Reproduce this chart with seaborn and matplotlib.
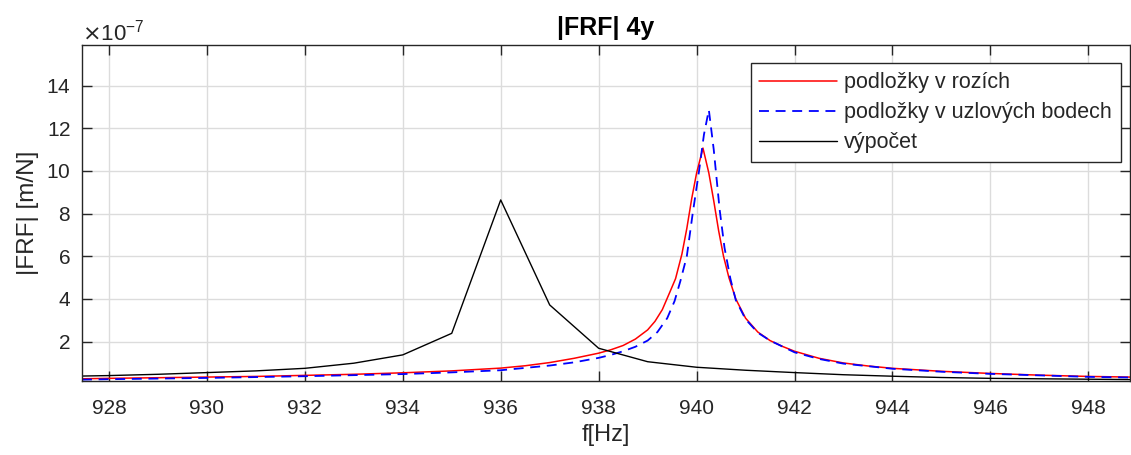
import numpy as np
import pandas as pd
import matplotlib
matplotlib.use("Agg")
import matplotlib.pyplot as plt
import matplotlib.ticker as mticker
import seaborn as sns

# ---- data (values in m/N; axis shows x1e-7) ----
f_red = [927.45, 928, 929, 930, 931, 932, 933, 934, 935, 936, 936.5, 937, 937.5,
         938, 938.25, 938.5, 938.75, 939.0, 939.15, 939.3, 939.45, 939.57, 939.7,
         939.8, 939.9, 940.0, 940.13, 940.25, 940.35, 940.45, 940.55, 940.66,
         940.8, 941.0, 941.25, 941.5, 941.75, 942, 942.5, 943, 943.5, 944, 945,
         946, 947, 948, 948.85]
a_red = [0.26, 0.28, 0.31, 0.34, 0.37, 0.42, 0.47, 0.54, 0.63, 0.76, 0.87, 1.02, 1.22,
         1.46, 1.62, 1.82, 2.12, 2.55, 2.95, 3.50, 4.30, 4.95, 6.10,
         7.30, 8.70, 9.90, 11.07, 9.90, 8.60, 7.20, 6.00, 5.00,
         4.00, 3.10, 2.45, 2.05, 1.78, 1.55, 1.22, 1.00, 0.86, 0.75, 0.61,
         0.51, 0.43, 0.37, 0.34]

f_blue = [927.45, 928, 930, 932, 934, 935, 936, 937, 937.5, 938, 938.25, 938.5,
          938.75, 939.0, 939.2, 939.4, 939.55, 939.67, 939.8, 939.92, 940.05,
          940.15, 940.25, 940.35, 940.47, 940.57, 940.69, 940.8, 941.0, 941.25,
          941.5, 942, 942.5, 943, 944, 945, 946, 947, 948, 948.85]
a_blue = [0.22, 0.24, 0.30, 0.38, 0.48, 0.56, 0.66, 0.88, 1.03, 1.24, 1.38, 1.55,
          1.76, 2.05, 2.45, 3.10, 3.90, 4.85, 6.00, 8.00, 10.00,
          11.70, 12.86, 11.00, 8.20, 6.40, 4.95, 3.95, 3.05, 2.42,
          2.05, 1.50, 1.19, 0.97, 0.73, 0.59, 0.49, 0.42, 0.35, 0.32]

f_calc = [927, 928, 929, 930, 931, 932, 933, 934, 935, 936, 937, 938, 939, 940,
          941, 942, 943, 944, 945, 946, 947, 948, 949]
a_calc = [0.37, 0.41, 0.47, 0.55, 0.63, 0.75, 0.99, 1.38, 2.39, 8.64, 3.72, 1.69, 1.06, 0.80,
          0.66, 0.55, 0.45, 0.38, 0.32, 0.28, 0.26, 0.24, 0.22]

labels = ["podložky v rozích", "podložky v uzlových bodech", "výpočet"]
x_ticks = list(range(928, 949, 2))
y_ticks = [2, 4, 6, 8, 10, 12, 14]
scale = 1e-7

sns.set_theme(style="whitegrid")
plt.rcParams['font.family'] = ['Liberation Sans', 'DejaVu Sans']

fig = plt.figure(figsize=(11.31, 4.55), dpi=100)
ax = fig.add_axes([82/1131, 1 - 380.7/455, 1048/1131, 335.7/455])

txt = "#262626"
sns.lineplot(x=f_red, y=np.array(a_red) * scale, ax=ax, color="#ff0000", lw=1.1,
             label=labels[0], sort=False, estimator=None)
sns.lineplot(x=f_blue, y=np.array(a_blue) * scale, ax=ax, color="#0000ff", lw=1.3,
             label=labels[1], sort=False, estimator=None, linestyle=(0, (5.5, 3.7)))
sns.lineplot(x=f_calc, y=np.array(a_calc) * scale, ax=ax, color="#000000", lw=1.0,
             label=labels[2], sort=False, estimator=None)

ax.set_xlim(927.45, 948.85)
ax.set_ylim(0.17 * scale, 15.9 * scale)
ax.set_xticks(x_ticks)
ax.set_yticks([v * scale for v in y_ticks])
fmt = mticker.ScalarFormatter(useMathText=True)
fmt.set_powerlimits((-7, -7))
ax.yaxis.set_major_formatter(fmt)
ax.yaxis.get_offset_text().set_fontsize(16)
ax.yaxis.get_offset_text().set_color(txt)

ax.set_facecolor("white")
ax.grid(True, color="#dcdcdc", linewidth=1.0)
for s in ax.spines.values():
    s.set_visible(True)
    s.set_color(txt)
    s.set_linewidth(1.0)
ax.tick_params(axis="both", direction="in", length=7, width=1.0, colors=txt,
               labelsize=15, labelcolor=txt, top=True, right=True,
               bottom=True, left=True, pad=8)
ax.tick_params(axis="x", pad=13.5)

ax.set_xlabel("f[Hz]", fontsize=17, color=txt, labelpad=4)
ax.set_ylabel("|FRF| [m/N]", fontsize=17.5, color=txt, labelpad=5)
ax.set_title("|FRF| 4y", fontsize=18, fontweight="bold", color="#000000", pad=7)

leg = ax.legend(loc="upper right", bbox_to_anchor=(0.991, 0.945), fontsize=15.5,
                frameon=True, fancybox=False, edgecolor="#262626", framealpha=1,
                handlelength=3.6, borderpad=0.4, labelspacing=0.42, handletextpad=0.35,
                borderaxespad=0)
leg.get_frame().set_linewidth(1.0)
for t in leg.get_texts():
    t.set_color(txt)

fig.savefig("out.png", dpi=100)
